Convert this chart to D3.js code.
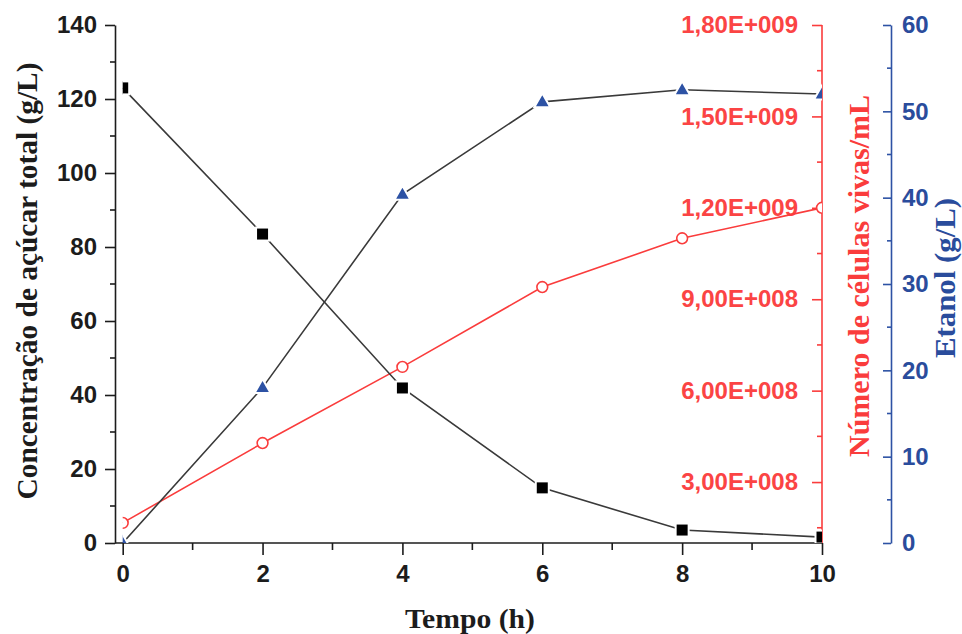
<!DOCTYPE html>
<html><head><meta charset="utf-8">
<script src="https://cdn.jsdelivr.net/npm/d3@7"></script>
<style>body{margin:0;background:#fff}svg{display:block}</style>
</head><body>
<svg id="c" width="962" height="634"></svg>
<script>
// ---- data ----
const time = [0, 2, 4, 6, 8, 10];
const sugar = [123.0, 83.5, 41.9, 14.9, 3.5, 1.6];          // g/L (left axis)
const ethanol = [0, 18.0, 40.4, 51.1, 52.5, 52.0];          // g/L (blue axis)
const cells = [1.66e8, 4.28e8, 6.78e8, 9.4e8, 1.10e9, 1.20e9]; // cells/mL (red axis)

const xTicks = [0, 2, 4, 6, 8, 10];
const xMinor = [1, 3, 5, 7, 9];
const leftTicks = [0, 20, 40, 60, 80, 100, 120, 140];
const leftMinor = [10, 30, 50, 70, 90, 110, 130];
const redTicks = [3e8, 6e8, 9e8, 1.2e9, 1.5e9, 1.8e9];
const redTickLabels = ["3,00E+008", "6,00E+008", "9,00E+008", "1,20E+009", "1,50E+009", "1,80E+009"];
const redMinor = [1.5e8, 4.5e8, 7.5e8, 1.05e9, 1.35e9, 1.65e9];
const blueTicks = [0, 10, 20, 30, 40, 50, 60];
const blueMinor = [5, 15, 25, 35, 45, 55];

const RED = "#fa3c3c", BLUE = "#2d52a4", BLACK = "#1c1c1c";
const svg = d3.select("#c");

const x = d3.scaleLinear().domain([-0.1, 10]).range([115.7, 822]);
const yL = d3.scaleLinear().domain([0, 140]).range([543, 25]);
const yR = d3.scaleLinear().domain([1e8, 1.8e9]).range([543, 25]);
const yB = d3.scaleLinear().domain([0, 60]).range([543, 25]);

const tickFont = "'Liberation Sans', Arial, sans-serif";
const titleFont = "'Liberation Serif', 'Times New Roman', serif";

function styleAxis(g, color, fontColor) {
  g.select(".domain").attr("stroke", color).attr("stroke-width", 1.6);
  g.selectAll(".tick line").attr("stroke", color).attr("stroke-width", 1.6);
  g.selectAll(".tick text").attr("fill", fontColor).attr("font-family", tickFont)
    .attr("font-weight", "bold").attr("font-size", 24);
}

// minor ticks
function minor(g, vals, scale, orient, len, color) {
  g.selectAll(null).data(vals).enter().append("line")
    .attr("stroke", color).attr("stroke-width", 1.6)
    .each(function(d) {
      const s = d3.select(this), p = scale(d);
      if (orient === "bottom") s.attr("x1", p).attr("x2", p).attr("y1", 0).attr("y2", len);
      else if (orient === "left") s.attr("y1", p).attr("y2", p).attr("x1", 0).attr("x2", -len);
      else s.attr("y1", p).attr("y2", p).attr("x1", 0).attr("x2", len);
    });
}

// left axis
const gL = svg.append("g").attr("transform", "translate(115,0)")
  .call(d3.axisLeft(yL).tickValues(leftTicks).tickSize(10).tickPadding(8).tickSizeOuter(0));
styleAxis(gL, BLACK, BLACK);
minor(gL, leftMinor, yL, "left", 5, BLACK);

// bottom axis
const gX = svg.append("g").attr("transform", "translate(0,543)")
  .call(d3.axisBottom(x).tickValues(xTicks).tickSize(12).tickPadding(10).tickSizeOuter(0));
gX.select(".domain").attr("d", `M115,0H822`);
styleAxis(gX, BLACK, BLACK);
minor(gX, xMinor, x, "bottom", 7, BLACK);

// red axis (ticks inward, labels inside)
const gR = svg.append("g").attr("transform", "translate(822,0)")
  .call(d3.axisLeft(yR).tickValues(redTicks).tickFormat((d, i) => redTickLabels[i])
    .tickSize(10).tickPadding(14).tickSizeOuter(0));
gR.select(".domain").attr("d", "M0,543V25");
styleAxis(gR, RED, "#fb4444");
minor(gR, redMinor, yR, "left", 5, RED);

// blue axis (ticks inward, labels right)
const gB = svg.append("g").attr("transform", "translate(891,0)")
  .call(d3.axisRight(yB).tickValues(blueTicks).tickSize(0).tickPadding(11).tickSizeOuter(0));
gB.selectAll(".tick line").attr("x2", -8);
styleAxis(gB, BLUE, BLUE);
gB.selectAll(".tick text").attr("fill", "#2a4c9c");
minor(gB, blueMinor, yB, "left", 4, BLUE);

// clip
svg.append("clipPath").attr("id", "clip").append("rect")
  .attr("x", x(0)).attr("y", 25).attr("width", x(10) - x(0)).attr("height", 518);
const plot = svg.append("g").attr("clip-path", "url(#clip)");

const lineSugar = d3.line().x((d, i) => x(time[i])).y(d => yL(d));
const lineEth = d3.line().x((d, i) => x(time[i])).y(d => yB(d));
const lineCell = d3.line().x((d, i) => x(time[i])).y(d => yR(d));

plot.append("path").datum(cells).attr("d", lineCell).attr("fill", "none").attr("stroke", RED).attr("stroke-width", 1.6);
plot.append("path").datum(sugar).attr("d", lineSugar).attr("fill", "none").attr("stroke", "#3a3a3a").attr("stroke-width", 1.6);
plot.append("path").datum(ethanol).attr("d", lineEth).attr("fill", "none").attr("stroke", "#3a3a3a").attr("stroke-width", 1.6);

// markers
plot.selectAll(".sq").data(sugar).enter().append("rect")
  .attr("x", (d, i) => x(time[i]) - 6.5).attr("y", d => yL(d) - 6.5)
  .attr("width", 13).attr("height", 13).attr("fill", "#000")
  .attr("stroke", "#fff").attr("stroke-width", 2);
plot.selectAll(".tri").data(ethanol).enter().append("path")
  .attr("d", (d, i) => { const cx = x(time[i]), cy = yB(d); return `M${cx},${cy - 8.5}L${cx + 8},${cy + 5.5}L${cx - 8},${cy + 5.5}Z`; })
  .attr("fill", BLUE).attr("stroke", "#fff").attr("stroke-width", 2);
plot.selectAll(".circ").data(cells).enter().append("circle")
  .attr("cx", (d, i) => x(time[i])).attr("cy", d => yR(d)).attr("r", 5.4)
  .attr("fill", "#fff").attr("stroke", RED).attr("stroke-width", 1.6);

// titles
svg.append("text").attr("transform", "translate(37,281) rotate(-90)")
  .attr("text-anchor", "middle").attr("font-family", titleFont).attr("font-weight", "bold")
  .attr("font-size", 30).attr("fill", BLACK).attr("textLength", 437).attr("lengthAdjust", "spacingAndGlyphs")
  .text("Concentração de açúcar total (g/L)");
svg.append("text").attr("x", 470).attr("y", 628)
  .attr("text-anchor", "middle").attr("font-family", titleFont).attr("font-weight", "bold")
  .attr("font-size", 28).attr("fill", BLACK).attr("textLength", 130).attr("lengthAdjust", "spacingAndGlyphs")
  .text("Tempo (h)");
svg.append("text").attr("transform", "translate(869,276) rotate(-90)")
  .attr("text-anchor", "middle").attr("font-family", titleFont).attr("font-weight", "bold")
  .attr("font-size", 30).attr("fill", RED).attr("textLength", 362).attr("lengthAdjust", "spacingAndGlyphs")
  .text("Número de células vivas/mL");
svg.append("text").attr("transform", "translate(955,278) rotate(-90)")
  .attr("text-anchor", "middle").attr("font-family", titleFont).attr("font-weight", "bold")
  .attr("font-size", 30).attr("fill", "#2a4c9c").attr("textLength", 160).attr("lengthAdjust", "spacingAndGlyphs")
  .text("Etanol (g/L)");
</script>
</body></html>
